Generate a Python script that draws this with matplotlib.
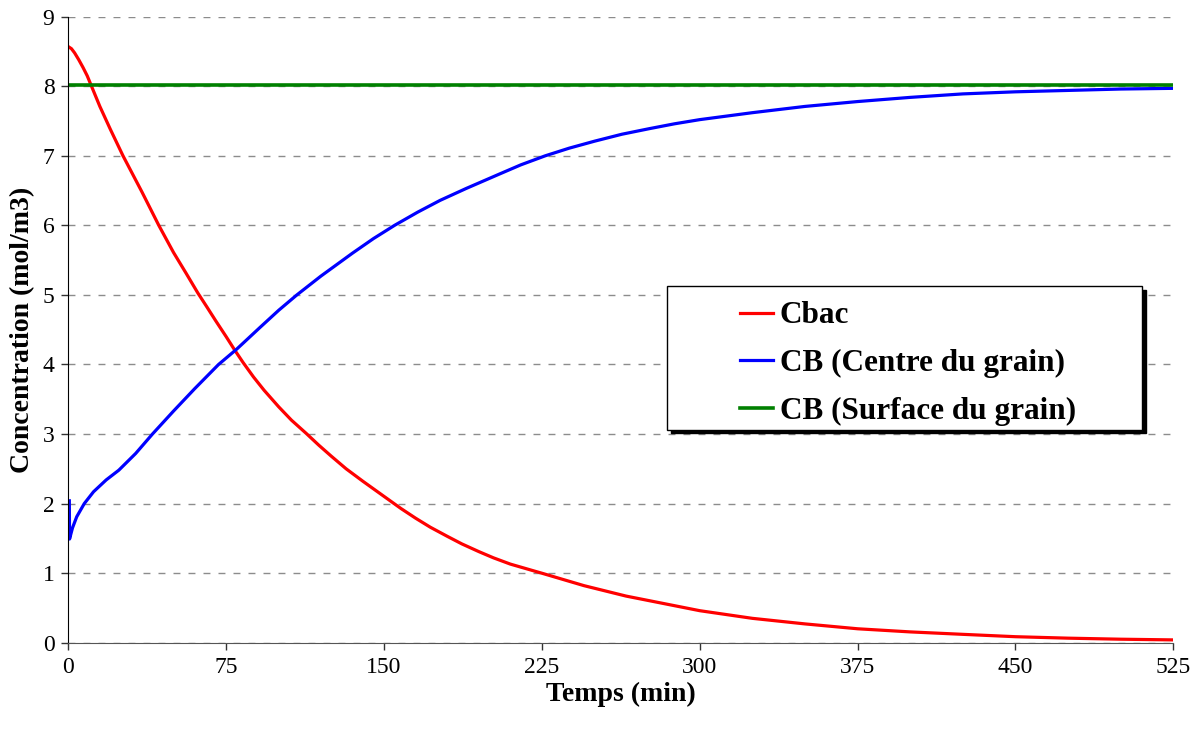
import matplotlib
matplotlib.use("Agg")
import matplotlib.pyplot as plt
from matplotlib.patches import Rectangle

plt.rcParams['font.family'] = ['Liberation Serif', 'DejaVu Serif']

t_bac = [0, 1.5, 3, 5, 7, 9, 12, 15, 20, 26, 35, 43, 50, 56, 61.5, 66, 70, 75,
         79, 83, 88, 93, 100, 106, 113, 119, 125, 132, 140, 146, 152, 158,
         165, 172, 180, 187, 195, 202, 210, 218, 226, 245, 265, 285, 300, 325,
         350, 375, 400, 425, 450, 475, 500, 525]
c_bac = [8.57, 8.54, 8.48, 8.38, 8.27, 8.15, 7.93, 7.71, 7.38, 7.0, 6.48, 6.0,
         5.61, 5.31, 5.03, 4.82, 4.63, 4.40, 4.21, 4.03, 3.82, 3.63, 3.39,
         3.2, 3.01, 2.84, 2.68, 2.50, 2.32, 2.19, 2.06, 1.93, 1.79, 1.66,
         1.53, 1.42, 1.31, 1.22, 1.13, 1.06, 0.99, 0.82, 0.67, 0.55, 0.46,
         0.35, 0.27, 0.20, 0.155, 0.12, 0.086, 0.065, 0.05, 0.04]

# CB au centre du grain
t_centre = [0.5, 0.6, 2, 4, 7.6, 12, 18, 24, 32, 40, 50, 60, 71.4, 80, 91,
            100, 108.6, 120, 135, 145, 155, 166, 176.7, 189, 205, 215, 226.6,
            238, 250, 263, 276, 288, 300, 325, 350, 375, 400, 425, 450, 475,
            500, 525]
c_centre = [2.04, 1.49, 1.65, 1.81, 2.0, 2.17, 2.34, 2.48, 2.72, 3.0, 3.33,
            3.65, 4.0, 4.22, 4.53, 4.78, 5.0, 5.27, 5.6, 5.81, 6.0, 6.19, 6.36,
            6.53, 6.74, 6.87, 7.0, 7.11, 7.21, 7.31, 7.39, 7.46, 7.52, 7.62,
            7.71, 7.78, 7.84, 7.89, 7.92, 7.94, 7.96, 7.97]

# CB en surface du grain
t_surface = [0, 525]
c_surface = [8.02, 8.02]

x_ticks = [0, 75, 150, 225, 300, 375, 450, 525]
y_ticks = list(range(0, 10))

fig = plt.figure(figsize=(12, 7.29), dpi=100)
ax = fig.add_axes([0.0569, 0.1184, 0.9209, 0.8587])

ax.grid(axis='y', color='#8c8c8c', linestyle=(0, (5, 5.8)), linewidth=1)
ax.set_axisbelow(True)

l1, = ax.plot(t_bac, c_bac, color='#ff0000', lw=2.3, label='Cbac')
l2, = ax.plot(t_centre, c_centre, color='#0000ff', lw=2.3,
              label='CB (Centre du grain)')
l3, = ax.plot(t_surface, c_surface, color='#008000', lw=2.6,
              label='CB (Surface du grain)')

ax.set_xlim(0, 525)
ax.set_ylim(0, 9)
ax.set_xticks(x_ticks)
ax.set_yticks(y_ticks)
ax.tick_params(direction='out', length=5, width=1, labelsize=17, pad=5,
               colors='#333333', labelcolor='black')

for s in ['top', 'right']:
    ax.spines[s].set_visible(False)
ax.spines['left'].set_color('black')
ax.spines['bottom'].set_color('#555555')

ax.set_xlabel('Temps (min)', fontsize=20, fontweight='bold', labelpad=3)
ax.set_ylabel('Concentration (mol/m3)', fontsize=20, fontweight='bold',
              labelpad=5)

# cadre de la légende avec ombre noire (style Excel)
x0, y0, w, h = 0.542, 0.340, 0.430, 0.229
ax.add_patch(Rectangle((x0 + 0.003, y0 - 0.005), w, h, transform=ax.transAxes,
                       facecolor='black', edgecolor='black', zorder=5,
                       clip_on=False))
ax.add_patch(Rectangle((x0, y0), w, h, transform=ax.transAxes,
                       facecolor='white', edgecolor='black', lw=1, zorder=6,
                       clip_on=False))

leg = ax.legend(handles=[l1, l2, l3], loc='center left',
                bbox_to_anchor=(0.6079, 0.446), frameon=False,
                prop={'size': 22.5, 'weight': 'bold'}, handlelength=1.05,
                handletextpad=0.22, labelspacing=0.59, borderpad=0,
                borderaxespad=0)
leg.set_zorder(7)

fig.savefig('out.png', dpi=100)
